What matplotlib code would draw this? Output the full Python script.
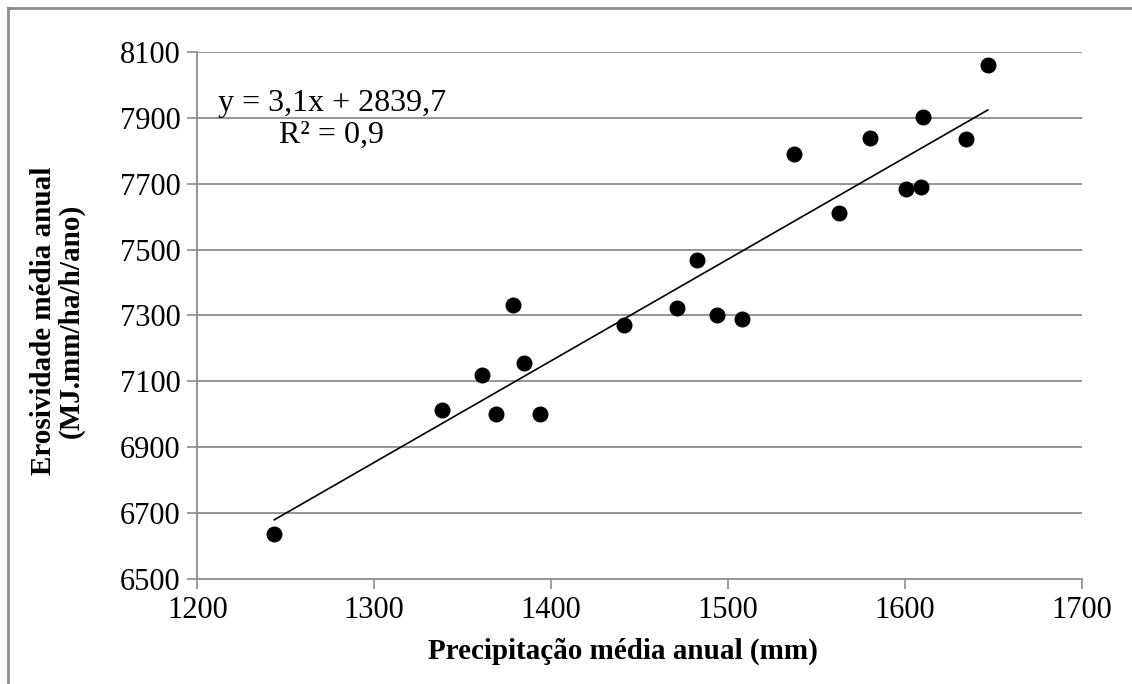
import matplotlib.pyplot as plt
import numpy as np
from matplotlib.lines import Line2D

plt.rcParams['font.family'] = ['Liberation Serif', 'DejaVu Serif']

# precipitação média anual (mm) x erosividade média anual
precip = [1243.5, 1338.6, 1360.7, 1368.6, 1378.2, 1384.7, 1393.6, 1441.1,
          1471.2, 1482.5, 1494.0, 1507.7, 1537.1, 1562.7, 1580.4, 1600.8,
          1609.0, 1610.4, 1634.3, 1646.9]
erosiv = [6636, 7012, 7119, 7002, 7333, 7157, 7000, 7271,
          7322, 7467, 7300, 7290, 7790, 7612, 7839, 7684,
          7691, 7904, 7835, 8060]

xticks = [1200, 1300, 1400, 1500, 1600, 1700]
yticks = [6500, 6700, 6900, 7100, 7300, 7500, 7700, 7900, 8100]

eq_txt = 'y = 3,1x + 2839,7'
r2_txt = 'R² = 0,9'

fig = plt.figure(figsize=[11.32, 6.84], dpi=100)
ax = fig.add_axes([0.1743, 0.1535, 0.7813, 0.7705])

gris = '#8c8c8c'
for t in yticks[1:]:
    ax.axhline(t, color=gris, linewidth=1.3, zorder=1)

ax.plot(precip, erosiv, 'o', color='black', markersize=10.5, zorder=3)

# linha de tendência
a, b = np.polyfit(precip, erosiv, 1)
xl = np.array([min(precip), max(precip)])
ax.plot(xl, a*xl + b, color='black', linewidth=1.2, zorder=2)

ax.set_xlim(1200, 1700)
ax.set_ylim(6500, 8100)
ax.set_xticks(xticks)
ax.set_yticks(yticks)
ax.tick_params(labelsize=22, color=gris, length=7, width=1.2, pad=5)

ax.spines['right'].set_color('none')
ax.spines['top'].set_color('none')
ax.spines['left'].set_color(gris)
ax.spines['bottom'].set_color(gris)
ax.spines['left'].set_linewidth(1.3)
ax.spines['bottom'].set_linewidth(1.3)

ax.set_xlabel('Precipitação média anual (mm)', fontsize=21, fontweight='bold')
ax.xaxis.set_label_coords(0.481, -0.112)
ax.set_ylabel('Erosividade média anual\n(MJ.mm/ha/h/ano)', fontsize=21,
              fontweight='bold', linespacing=1.05)
ax.yaxis.set_label_coords(-0.127, 0.49)

ax.text(1276, 7945, eq_txt, fontsize=23, ha='center', va='center')
ax.text(1276, 7848, r2_txt, fontsize=23, ha='center', va='center')

# moldura
fig.add_artist(Line2D([0.007, 0.007], [0.0, 0.988], color=gris, linewidth=2, transform=fig.transFigure))
fig.add_artist(Line2D([0.007, 1.0], [0.988, 0.988], color=gris, linewidth=2, transform=fig.transFigure))

plt.savefig('out.png', dpi=100)
